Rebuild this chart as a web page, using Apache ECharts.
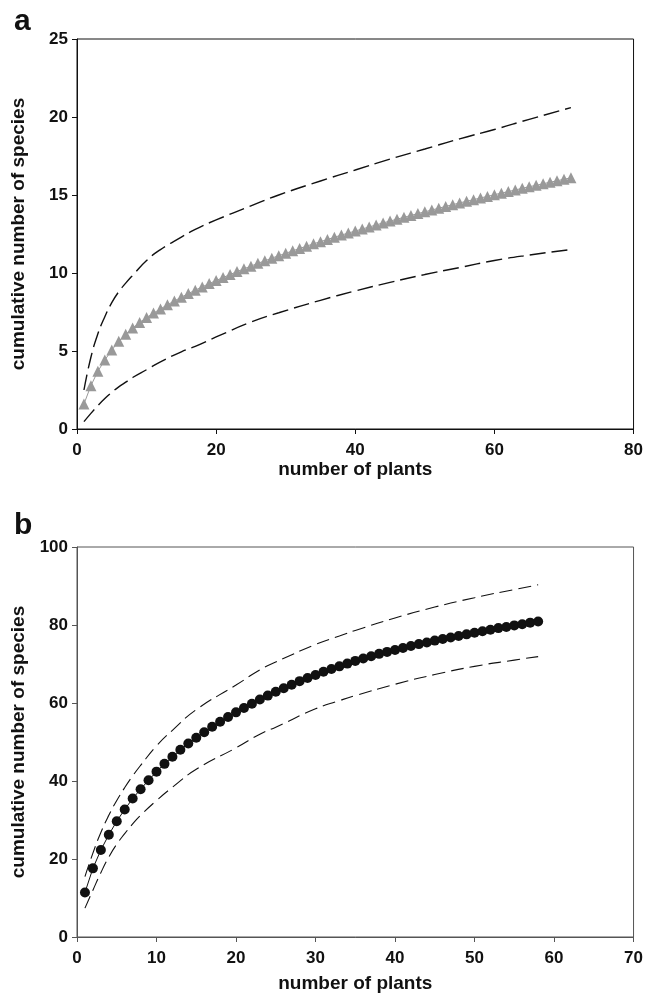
<!DOCTYPE html>
<html>
<head>
<meta charset="utf-8">
<script src="https://cdn.jsdelivr.net/npm/echarts@6/dist/echarts.min.js"></script>
<style>
html,body{margin:0;padding:0;background:#fff;}
#main{width:646px;height:996px;}
</style>
</head>
<body>
<div id="main"></div>
<script>
// panel a: species accumulation, 71 plants
var plantsA = [1,2,3,4,5,6,7,8,9,10,11,12,13,14,15,16,17,18,19,20,21,22,23,24,25,26,27,28,29,30,
  31,32,33,34,35,36,37,38,39,40,41,42,43,44,45,46,47,48,49,50,51,52,53,54,55,56,57,58,59,60,
  61,62,63,64,65,66,67,68,69,70,71];
var speciesA = [1.6,2.78,3.7,4.42,5.06,5.62,6.07,6.47,6.83,7.14,
  7.43,7.70,7.96,8.21,8.45,8.68,8.90,9.11,9.32,9.52,
  9.71,9.90,10.09,10.27,10.44,10.62,10.78,10.95,11.11,11.26,
  11.42,11.57,11.72,11.87,12.01,12.15,12.29,12.43,12.56,12.69,
  12.82,12.95,13.08,13.21,13.33,13.45,13.57,13.69,13.81,13.92,
  14.04,14.15,14.27,14.38,14.49,14.60,14.70,14.81,14.91,15.02,
  15.12,15.22,15.32,15.43,15.53,15.62,15.72,15.82,15.91,16.01,16.10];
// 95% bounds (a)
var boundAX = [1,2,3,4,5,6,7,8,10,12,15,17,20,25,29,35,40,45,50,55,60,65,71];
var upperAY = [2.5,4.6,6.1,7.2,8.1,8.8,9.35,9.85,10.8,11.5,12.3,12.8,13.4,14.3,15.0,15.9,16.6,17.3,17.95,18.6,19.2,19.85,20.6];
var lowerAY = [0.47,1.0,1.5,1.95,2.35,2.7,3.0,3.3,3.8,4.3,4.95,5.3,5.9,6.85,7.45,8.25,8.85,9.4,9.9,10.35,10.8,11.15,11.5];

// panel b: 58 plants
var plantsB = [1,2,3,4,5,6,7,8,9,10,11,12,13,14,15,16,17,18,19,20,21,22,23,24,25,26,27,28,29,30,
  31,32,33,34,35,36,37,38,39,40,41,42,43,44,45,46,47,48,49,50,51,52,53,54,55,56,57,58];
var speciesB = [11.4,17.6,22.3,26.2,29.7,32.7,35.5,37.9,40.2,42.4,
  44.4,46.2,48.0,49.6,51.1,52.5,53.9,55.2,56.4,57.6,
  58.7,59.8,60.9,61.9,62.9,63.8,64.7,65.6,66.4,67.2,
  68.0,68.7,69.4,70.1,70.8,71.4,72.0,72.6,73.1,73.6,
  74.1,74.6,75.1,75.5,76.0,76.4,76.8,77.2,77.6,78.0,
  78.4,78.8,79.2,79.5,79.9,80.2,80.6,80.9];
var boundBX = [1,2,3,4,5,6,7,8,10,12,15,20,23,25,30,33,35,40,45,50,55,58];
var upperBY = [15.5,21.5,26.8,31.2,35.0,38.3,41.3,44.0,49.0,53.0,58.3,64.6,68.5,70.5,75.0,77.2,78.6,81.8,84.6,87.0,89.1,90.3];
var lowerBY = [7.4,12.0,16.5,20.5,23.8,26.5,29.0,31.2,35.0,38.4,43.0,48.5,52.0,53.8,58.5,60.6,61.9,64.8,67.3,69.4,71.0,71.9];

function pairs(xs, ys){
    var out = [];
    for(var i=0; i<xs.length; i++){
        out.push([xs[i], ys[i]]);
    }
    return out;
}

var font = '"Liberation Sans", Arial, Helvetica, sans-serif';
var tickTxt = {fontSize:17, fontWeight:'bold', color:'#111', fontFamily:font};
var nameTxt = {fontSize:19, fontWeight:'bold', color:'#111', fontFamily:font};

function xAx(idx, max, step, col, gap){
    return {
        gridIndex: idx, type:'value', min:0, max:max, interval:step,
        axisLine:{show:true, lineStyle:{color:col, width:1}},
        axisTick:{show:true, inside:false, length:5, lineStyle:{color:col}},
        axisLabel:Object.assign({margin:13}, tickTxt),
        splitLine:{show:false},
        name:'number of plants', nameLocation:'middle', nameGap:gap,
        nameTextStyle:nameTxt
    };
}
function yAx(idx, max, step, col){
    return {
        gridIndex: idx, type:'value', min:0, max:max, interval:step,
        axisLine:{show:true, lineStyle:{color:col, width:1}},
        axisTick:{show:true, inside:false, length:5, lineStyle:{color:col}},
        axisLabel:Object.assign({margin:9}, tickTxt),
        splitLine:{show:false},
        name:'cumulative number of species', nameLocation:'middle', nameGap:49, nameRotate:90,
        nameTextStyle:nameTxt
    };
}
function dashed(xi, data, dash, w){
    return {
        type:'line', xAxisIndex:xi, yAxisIndex:xi, data:data,
        symbol:'none', smooth:0.5, z:5,
        lineStyle:{color:'#111', width:w, type:dash}
    };
}

var myChart = echarts.init(document.getElementById('main'));
var option = {
    animation:false,
    backgroundColor:'#fff',
    title:[
        {text:'a', left:9, top:2, textStyle:{fontSize:30, fontWeight:'bold', color:'#111', fontFamily:font}},
        {text:'b', left:9, top:506, textStyle:{fontSize:30, fontWeight:'bold', color:'#111', fontFamily:font}}
    ],
    grid:[
        {left:77, top:39, width:557, height:390, show:true, borderColor:'#111', borderWidth:1},
        {left:77, top:547, width:558, height:390, show:true, borderColor:'#555', borderWidth:1}
    ],
    xAxis:[xAx(0, 80, 20, '#111', 29), xAx(1, 70, 10, '#555', 37)],
    yAxis:[yAx(0, 25, 5, '#111'), yAx(1, 100, 20, '#555')],
    series:[
        {
            type:'line', xAxisIndex:0, yAxisIndex:0, data:pairs(plantsA, speciesA),
            symbol:'triangle', symbolSize:11, z:3,
            itemStyle:{color:'#999'}, lineStyle:{color:'#999', width:1}
        },
        dashed(0, pairs(boundAX, upperAY), [16,6], 1.4),
        dashed(0, pairs(boundAX, lowerAY), [16,6], 1.4),
        {
            type:'line', xAxisIndex:1, yAxisIndex:1, data:pairs(plantsB, speciesB),
            symbol:'circle', symbolSize:10, z:3,
            itemStyle:{color:'#111'}, lineStyle:{color:'#111', width:1}
        },
        dashed(1, pairs(boundBX, upperBY), [13,6], 1.1),
        dashed(1, pairs(boundBX, lowerBY), [13,6], 1.1)
    ]
};
myChart.setOption(option, true);
</script>
</body>
</html>
